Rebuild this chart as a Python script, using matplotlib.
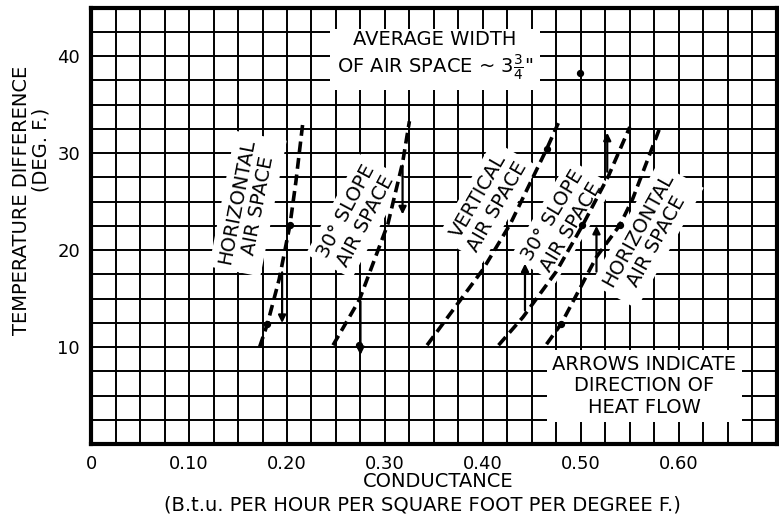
import numpy as np
import matplotlib
matplotlib.use("Agg")
from matplotlib import pyplot as plt

# ===== Valores =====

x_ticks = [0, 0.10, 0.20, 0.30, 0.40, 0.50, 0.60]
x_tick_labels = ["0", "0.10", "0.20", "0.30", "0.40", "0.50", "0.60"]
y_ticks = [10, 20, 30, 40]

# curvas tracejadas: condutância (x) e diferença de temperatura (y)
horiz_esq_x = [0.172, 0.180, 0.192, 0.203, 0.209, 0.216]
horiz_esq_y = [10.0, 12.4, 17.0, 22.6, 27.0, 33.0]

slope_esq_x = [0.247, 0.274, 0.303, 0.318, 0.325]
slope_esq_y = [10.2, 14.9, 22.7, 29.0, 33.3]

vertical_x = [0.343, 0.400, 0.428, 0.465, 0.477]
vertical_y = [10.2, 18.0, 22.7, 30.4, 33.1]

slope_dir_x = [0.416, 0.441, 0.475, 0.502, 0.528, 0.550]
slope_dir_y = [10.2, 13.1, 17.8, 22.6, 27.6, 32.7]

horiz_dir_x = [0.465, 0.480, 0.516, 0.540, 0.553, 0.581]
horiz_dir_y = [10.3, 12.4, 19.3, 22.6, 25.3, 32.7]

curvas = [
    (horiz_esq_x, horiz_esq_y),
    (slope_esq_x, slope_esq_y),
    (vertical_x, vertical_y),
    (slope_dir_x, slope_dir_y),
    (horiz_dir_x, horiz_dir_y),
]

# setas (x, y inicial, y final) -> direção do fluxo de calor
setas_x = [0.195, 0.275, 0.318, 0.443, 0.516, 0.527]
setas_y0 = [18.0, 15.0, 29.0, 13.5, 17.5, 27.8]
setas_y1 = [12.2, 8.9, 23.4, 18.9, 22.8, 32.4]

# pontos marcados
pontos_x = [0.180, 0.203, 0.274, 0.465, 0.480, 0.540, 0.501, 0.499]
pontos_y = [12.4, 22.6, 10.2, 30.4, 12.4, 22.6, 22.6, 38.3]

# ===== Plotagem =====

fig = plt.figure(figsize=(7.79, 5.17), dpi=100)
ax = fig.add_axes([0.117, 0.141, 0.880, 0.844])

ax.set_xlim(0, 0.70)
ax.set_ylim(0, 45)

ax.set_xticks(x_ticks)
ax.set_xticklabels(x_tick_labels, fontsize=13)
ax.set_yticks(y_ticks)
ax.set_yticklabels([str(v) for v in y_ticks], fontsize=13)
ax.set_xticks(np.arange(0, 0.7001, 0.025), minor=True)
ax.set_yticks(np.arange(0, 45.01, 2.5), minor=True)
ax.tick_params(which="both", length=0, pad=8)
ax.grid(which="both", color="black", linewidth=1.4, zorder=1)
ax.set_axisbelow(True)

for sp in ax.spines.values():
    sp.set_linewidth(3)

for cx, cy in curvas:
    ax.plot(cx, cy, color="black", linewidth=2.6, linestyle=(0, (3, 1.6)), zorder=5)

for i in range(len(setas_x)):
    ax.annotate("", xy=(setas_x[i], setas_y1[i]), xytext=(setas_x[i], setas_y0[i]),
                arrowprops=dict(arrowstyle="-|>", color="black", lw=1.6, mutation_scale=11),
                zorder=5)

ax.scatter(pontos_x, pontos_y, s=18, color="black", zorder=6)

caixa = dict(facecolor="white", edgecolor="none", pad=4)
fs_rot = 14

ax.text(0.160, 24.8, "HORIZONTAL\nAIR SPACE", rotation=79, fontsize=fs_rot,
        ha="center", va="center", rotation_mode="anchor", bbox=caixa, zorder=3)
ax.text(0.270, 23.5, "30° SLOPE\nAIR SPACE", rotation=62, fontsize=fs_rot,
        ha="center", va="center", rotation_mode="anchor", bbox=caixa, zorder=3)
ax.text(0.405, 25.0, "VERTICAL\nAIR SPACE", rotation=60, fontsize=fs_rot,
        ha="center", va="center", rotation_mode="anchor", bbox=caixa, zorder=3)
ax.text(0.481, 23.0, "30° SLOPE\nAIR SPACE", rotation=59, fontsize=fs_rot,
        ha="center", va="center", rotation_mode="anchor", bbox=caixa, zorder=3)
ax.text(0.568, 21.5, "HORIZONTAL\nAIR SPACE", rotation=61, fontsize=fs_rot,
        ha="center", va="center", rotation_mode="anchor", bbox=caixa, zorder=3)

ax.text(0.351, 40.0, "AVERAGE WIDTH\nOF AIR SPACE ~ 3$\\frac{3}{4}$\"", fontsize=14,
        ha="center", va="center", linespacing=1.2,
        bbox=dict(facecolor="white", edgecolor="none", pad=5), zorder=3)
ax.text(0.565, 6.0, "ARROWS INDICATE\nDIRECTION OF\nHEAT FLOW", fontsize=14,
        ha="center", va="center", linespacing=1.15,
        bbox=dict(facecolor="white", edgecolor="none", pad=4), zorder=3)

fig.text(0.562, 0.068, "CONDUCTANCE", fontsize=14, ha="center", va="center")
fig.text(0.542, 0.024, "(B.t.u. PER HOUR PER SQUARE FOOT PER DEGREE F.)", fontsize=14,
         ha="center", va="center")
fig.text(0.028, 0.613, "TEMPERATURE DIFFERENCE", rotation=90, fontsize=14,
         ha="center", va="center")
fig.text(0.052, 0.71, "(DEG. F.)", rotation=90, fontsize=14,
         ha="center", va="center")

plt.savefig("out.png", dpi=100)
